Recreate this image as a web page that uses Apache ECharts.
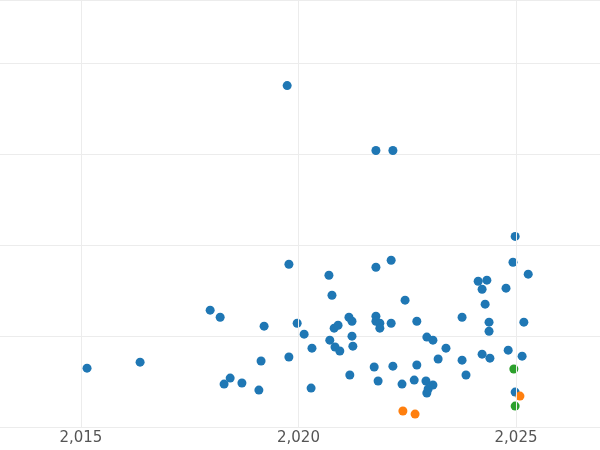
<!DOCTYPE html>
<html><head><meta charset="utf-8">
<script src="https://cdn.jsdelivr.net/npm/echarts@6/dist/echarts.min.js"></script>
<style>html,body{margin:0;padding:0;background:#fff}#c{width:600px;height:450px}</style>
</head><body><div id="c"></div>
<script>
const yearTicks = [2015, 2020, 2025];
const blueX = [2015.14,2016.36,2017.97,2018.2,2018.29,2018.43,2018.7,2019.09,2019.14,2019.21,2019.74,2019.78,2019.78,2019.97,2020.13,2020.29,2020.31,2020.7,2020.77,2020.72,2020.82,2020.84,2020.91,2020.95,2021.16,2021.18,2021.23,2021.23,2021.25,2021.78,2021.78,2021.74,2021.78,2021.78,2021.83,2021.87,2021.87,2022.17,2022.13,2022.13,2022.17,2022.38,2022.45,2022.66,2022.72,2022.72,2022.93,2022.95,2022.95,2022.98,2023.09,2023.09,2023.21,2023.39,2023.76,2023.76,2023.85,2024.13,2024.22,2024.22,2024.29,2024.33,2024.38,2024.38,2024.4,2024.77,2024.82,2024.93,2024.98,2024.98,2025.14,2025.18,2025.28];
const blueY = [32.4,35.7,64.3,60.4,23.6,26.9,24.2,20.3,36.3,55.5,187.9,89.6,38.5,57.1,51.1,21.4,43.4,83.5,72.5,47.8,54.4,44,56,41.8,60.4,28.6,58.2,50,44.5,152.2,87.9,33,61,58.2,25.3,57.1,54.4,152.2,91.8,57.1,33.5,23.6,69.8,25.8,58.2,34.1,25.3,49.5,18.7,20.9,47.8,23.1,37.4,43.4,60.4,36.8,28.6,80.2,75.8,40.1,67.6,80.8,57.7,52.7,37.9,76.4,42.3,90.7,104.9,19.2,39,57.7,84.1];
const orangeX = [2022.40,2022.68,2025.09];
const orangeY = [8.8,7.1,17];
const greenX = [2024.95,2024.98];
const greenY = [31.9,11.5];
const zip = (a,b)=>a.map((v,i)=>[v,b[i]]);
const chart = echarts.init(document.getElementById('c'));
chart.setOption({
  animation:false,
  grid:{left:0,right:0,top:0,bottom:23},
  xAxis:{type:'value',min:2013.14,max:2026.93,
    axisLine:{show:false},axisTick:{show:false},splitLine:{show:false},
    axisLabel:{customValues:yearTicks,color:'#555',fontSize:15,margin:4,fontFamily:'DejaVu Sans'}},
  yAxis:{type:'value',min:0,max:235,interval:50,axisLabel:{show:false},axisLine:{show:false},axisTick:{show:false},
    splitLine:{lineStyle:{color:'#ececec'}}},
  series:[
    {type:'scatter',symbolSize:9,itemStyle:{color:'#1f77b4',opacity:1},data:zip(blueX,blueY),
     markLine:{silent:true,symbol:'none',label:{show:false},lineStyle:{color:'#ececec',type:'solid',width:1},
       data:yearTicks.map(v=>({xAxis:v}))}},
    {type:'scatter',symbolSize:9,itemStyle:{color:'#ff7f0e',opacity:1},data:zip(orangeX,orangeY)},
    {type:'scatter',symbolSize:9,itemStyle:{color:'#2ca02c',opacity:1},data:zip(greenX,greenY)}
  ]
});
</script></body></html>
